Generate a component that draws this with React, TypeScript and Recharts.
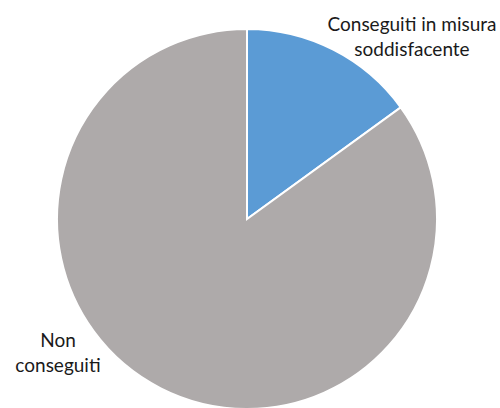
import { PieChart, Pie, Cell } from 'recharts'

const categories = ['Conseguiti in misura\nsoddisfacente', 'Non\nconseguiti']
const values = [15, 85]
const colors = ['#5B9BD5', '#AEAAAA']

const data = categories.map((name, i) => ({ name, value: values[i] }))

// label anchors relative to pie centre (Excel best-fit placement)
const labelOffsets = [
  { dx: 165, dy: -188 },
  { dx: -189, dy: 128 },
]

const renderLabel = (props: any) => {
  const { cx, cy, index, name } = props
  const off = labelOffsets[index]
  const lines = String(name).split('\n')
  return (
    <text
      x={cx + off.dx}
      y={cy + off.dy}
      textAnchor="middle"
      fill="#1a1a1a"
      fontFamily="Lato, 'Open Sans', sans-serif"
      fontSize={19}
    >
      {lines.map((l, i) => (
        <tspan key={i} x={cx + off.dx} dy={i === 0 ? 0 : 25}>
          {l}
        </tspan>
      ))}
    </text>
  )
}

export default function App() {
  return (
    <div style={{ position: 'absolute', left: 0, top: 0, width: 500, height: 408, background: '#fff' }}>
      <PieChart width={500} height={408} margin={{ top: 0, right: 0, bottom: 0, left: 0 }}>
        <Pie
          data={data}
          dataKey="value"
          nameKey="name"
          cx={247}
          cy={219}
          outerRadius={190}
          startAngle={90}
          endAngle={-270}
          stroke="#fff"
          strokeWidth={2}
          label={renderLabel}
          labelLine={false}
          isAnimationActive={false}
        >
          {data.map((d, i) => (
            <Cell key={d.name} fill={colors[i]} />
          ))}
        </Pie>
      </PieChart>
    </div>
  )
}
